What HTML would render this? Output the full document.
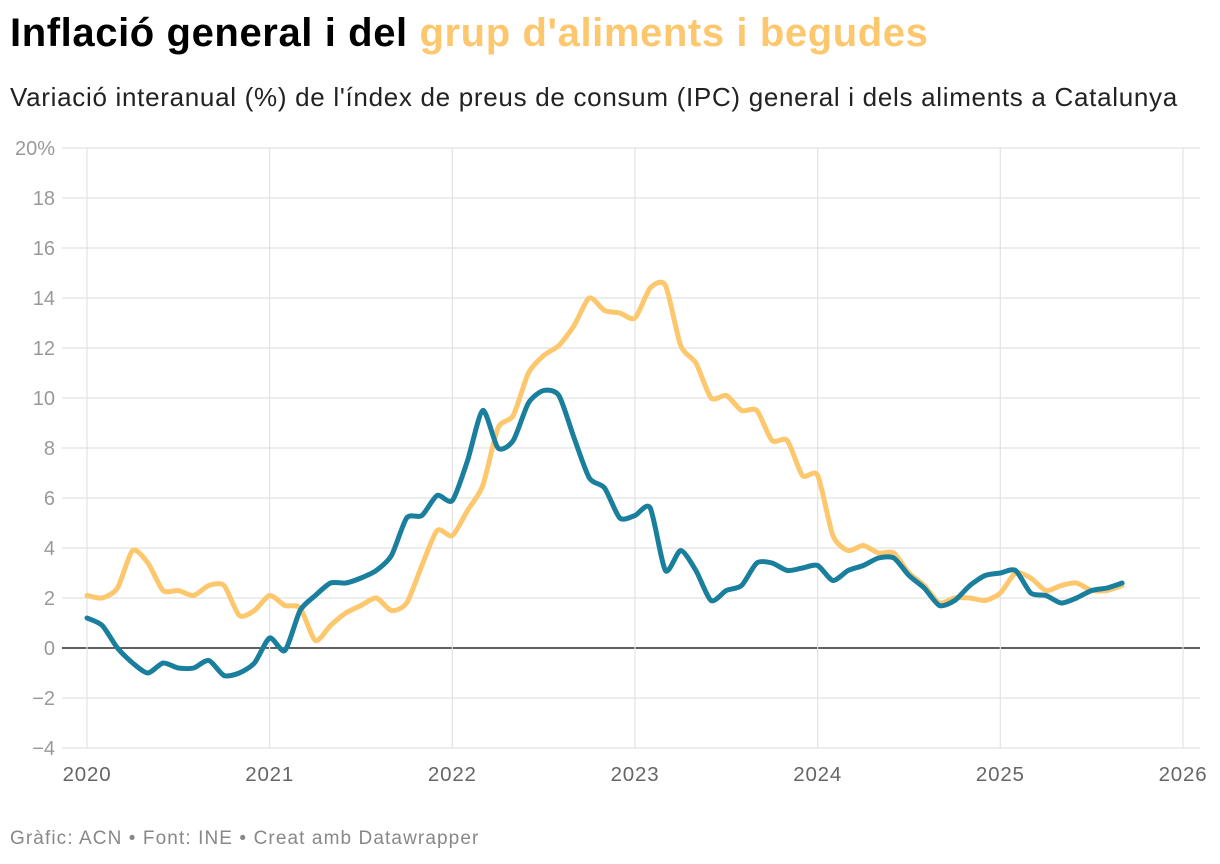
<!DOCTYPE html>
<html><head><meta charset="utf-8">
<style>
body{margin:0;background:#fff;width:1220px;height:864px;overflow:hidden;font-family:"Liberation Sans",sans-serif}
.t{position:absolute;left:10px;top:11px;font-size:40px;font-weight:bold;color:#000;letter-spacing:0.6px;white-space:nowrap}
.s{position:absolute;left:10px;top:82px;font-size:26px;color:#222;letter-spacing:0.7px;white-space:nowrap}
.f{position:absolute;left:10px;top:828px;font-size:19px;color:#888;letter-spacing:1.1px;white-space:nowrap}
</style></head><body>
<div class="t">Inflació general i del <span style="color:#fdc76e">grup d'aliments i begudes</span></div>
<div class="s">Variació interanual (%) de l'índex de preus de consum (IPC) general i dels aliments a Catalunya</div>
<svg id="c" width="1220" height="864" style="position:absolute;left:0;top:0"></svg>
<div class="f">Gràfic: ACN • Font: INE • Creat amb Datawrapper</div>
<script>
const yTicks=[-4,-2,0,2,4,6,8,10,12,14,16,18,20];
const yTickLabels=["−4","−2","0","2","4","6","8","10","12","14","16","18","20%"];
const years=[2020,2021,2022,2023,2024,2025,2026];
const general=[1.2,0.9,0.0,-0.6,-1.0,-0.6,-0.8,-0.8,-0.5,-1.1,-1.0,-0.6,
0.4,-0.1,1.5,2.1,2.6,2.6,2.8,3.1,3.7,5.2,5.3,6.1,
5.9,7.5,9.5,8.0,8.3,9.8,10.3,10.1,8.4,6.8,6.4,5.2,
5.3,5.6,3.1,3.9,3.1,1.9,2.3,2.5,3.4,3.4,3.1,3.2,
3.3,2.7,3.1,3.3,3.6,3.6,2.9,2.4,1.7,1.9,2.5,2.9,
3.0,3.1,2.2,2.1,1.8,2.0,2.3,2.4,2.6];
const food=[2.1,2.0,2.4,3.9,3.4,2.3,2.3,2.1,2.5,2.5,1.3,1.5,
2.1,1.7,1.6,0.3,0.9,1.4,1.7,2.0,1.5,1.8,3.3,4.7,
4.5,5.5,6.5,8.8,9.3,11.0,11.7,12.1,12.9,14.0,13.5,13.4,
13.2,14.4,14.5,12.1,11.4,10.0,10.1,9.5,9.5,8.3,8.3,6.9,
6.9,4.5,3.9,4.1,3.8,3.8,3.0,2.5,1.8,2.0,2.0,1.9,
2.2,3.0,2.8,2.3,2.5,2.6,2.3,2.3,2.5];
const svg=document.getElementById('c');const NS='http://www.w3.org/2000/svg';
const X0=87,X1=1183,Y0=648,PU=25;
const xs=t=>X0+(t-2020)*(X1-X0)/6;
const ys=v=>Y0-v*PU;
function mk(tag,a){const e=document.createElementNS(NS,tag);for(const k in a)e.setAttribute(k,a[k]);svg.appendChild(e);return e;}
yTicks.forEach((v,i)=>{
 const l=mk('line',{x1:62,x2:1200,y1:ys(v),y2:ys(v),stroke:v===0?'#000':'#e2e2e2','stroke-width':v===0?1.3:1.2});
 
 const t=mk('text',{x:55,y:ys(v)+7,'text-anchor':'end','font-size':20,fill:'#999','font-family':'Liberation Sans'});
 t.textContent=yTickLabels[i];
 
});
years.forEach(y=>{
 const l=mk('line',{x1:xs(y),x2:xs(y),y1:148,y2:748,stroke:'#e2e2e2','stroke-width':1.2});
 
 const t=mk('text',{x:xs(y),y:781,'text-anchor':'middle','font-size':20.5,fill:'#666','font-family':'Liberation Sans','letter-spacing':0.8});
 t.textContent=y;
 
});
function path(arr){
 const p=arr.map((v,i)=>[xs(2020+i/12),ys(v)]);
 let d='M'+p[0][0]+','+p[0][1];
 for(let i=0;i<p.length-1;i++){
  const a=p[i-1]||p[i],b=p[i],c=p[i+1],e=p[i+2]||c,k=0.12;
  d+=` C${b[0]+(c[0]-a[0])*k},${b[1]+(c[1]-a[1])*k} ${c[0]-(e[0]-b[0])*k},${c[1]-(e[1]-b[1])*k} ${c[0]},${c[1]}`;
 }
 return d;
}
const pf=mk('path',{d:path(food),fill:'none',stroke:'#fdc76e','stroke-width':5,'stroke-linejoin':'round','stroke-linecap':'round'});

const pg=mk('path',{d:path(general),fill:'none',stroke:'#1a7f9c','stroke-width':5,'stroke-linejoin':'round','stroke-linecap':'round'});

</script>
</body></html>
